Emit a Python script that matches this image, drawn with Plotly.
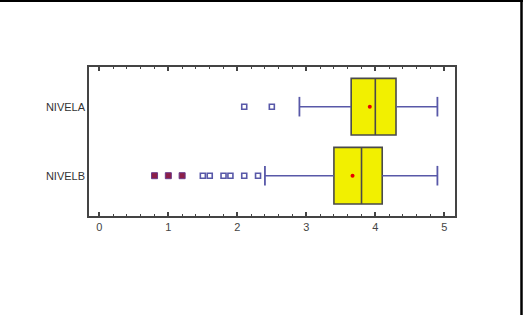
import plotly.graph_objects as go

categories = ["NIVELB", "NIVELA"]
q1 = [3.4, 3.65]
median = [3.8, 4.0]
q3 = [4.1, 4.3]
whisker_low = [2.4, 2.9]
whisker_high = [4.9, 4.9]
means = [3.67, 3.92]
mild_outliers = {
    "NIVELB": [1.5, 1.6, 1.8, 1.9, 2.1, 2.3],
    "NIVELA": [2.1, 2.5],
}
far_outliers = {
    "NIVELB": [0.8, 1.0, 1.2],
    "NIVELA": [],
}
x_ticks = [0, 1, 2, 3, 4, 5]

W, H = 523, 315
ML, MR, MT, MB = 89, 68, 67, 99
PW, PH = W - ML - MR, H - MT - MB

WHISK = "#5858a8"
BOXLINE = "#4a4a4a"
YELLOW = "#f2f000"

fig = go.Figure()

# whiskers
for i, c in enumerate(categories):
    fig.add_trace(go.Scatter(
        x=[whisker_low[i], q1[i], None, q3[i], whisker_high[i]],
        y=[c, c, None, c, c], mode="lines",
        line=dict(color=WHISK, width=1.6), showlegend=False, hoverinfo="skip"))
    fig.add_trace(go.Scatter(
        x=[whisker_low[i], whisker_high[i]], y=[c, c], mode="markers",
        marker=dict(symbol="line-ns", size=14, line=dict(color=WHISK, width=1.8)),
        showlegend=False, hoverinfo="skip"))

# boxes
fig.add_trace(go.Box(
    y=categories, q1=q1, median=median, q3=q3,
    lowerfence=q1, upperfence=q3, orientation="h",
    fillcolor=YELLOW, line=dict(color=BOXLINE, width=1.6),
    width=0.82, boxpoints=False, showlegend=False, hoverinfo="skip"))

# outliers
for c in categories:
    if mild_outliers[c]:
        fig.add_trace(go.Scatter(
            x=mild_outliers[c], y=[c] * len(mild_outliers[c]), mode="markers",
            marker=dict(symbol="square-open", size=5, color=WHISK, line=dict(width=1.6)),
            showlegend=False, hoverinfo="skip"))
    if far_outliers[c]:
        fig.add_trace(go.Scatter(
            x=far_outliers[c], y=[c] * len(far_outliers[c]), mode="markers",
            marker=dict(symbol="square", size=6, color="#8c1e48",
                        line=dict(color="#6a3a8a", width=1)),
            showlegend=False, hoverinfo="skip"))

# means
fig.add_trace(go.Scatter(
    x=means, y=categories, mode="markers",
    marker=dict(symbol="circle", size=4, color="#e80000"),
    showlegend=False, hoverinfo="skip"))

def px(xp):
    return (xp - ML) / PW

def py(yp):
    return 1 - (yp - MT) / PH

fig.update_layout(
    width=W, height=H,
    margin=dict(l=ML, r=MR, t=MT, b=MB),
    paper_bgcolor="white", plot_bgcolor="white",
    font=dict(family="Liberation Sans, Arial, sans-serif", size=11, color="#333333"),
    xaxis=dict(range=[-0.15, 5.155], tickvals=x_ticks, ticks="inside", ticklen=4,
               tickwidth=1.5, tickcolor="#444444",
               showline=True, linecolor="#444444", linewidth=1.5, mirror="ticks",
               showgrid=False, zeroline=False,
               minor=dict(dtick=0.2, ticks="inside", ticklen=2, tickcolor="#444444", tickwidth=1),
               tickfont=dict(size=11, color="#444444")),
    yaxis=dict(type="category", categoryarray=categories, range=[-0.584, 1.575],
               showline=True, linecolor="#444444", linewidth=1.5, mirror=True,
               showgrid=False, zeroline=False, ticks="",
               tickfont=dict(size=11, color="#333333")),
    shapes=[
        dict(type="line", xref="paper", yref="paper", x0=px(0), x1=px(W), y0=py(1), y1=py(1),
             line=dict(color="black", width=2)),
        dict(type="line", xref="paper", yref="paper", x0=px(521.5), x1=px(521.5), y0=py(0), y1=py(H),
             line=dict(color="black", width=2.5)),
    ],
)

fig.write_html("out.html", config={"displayModeBar": False},
               post_script="document.body.style.margin='0px';document.body.style.overflow='hidden';")
